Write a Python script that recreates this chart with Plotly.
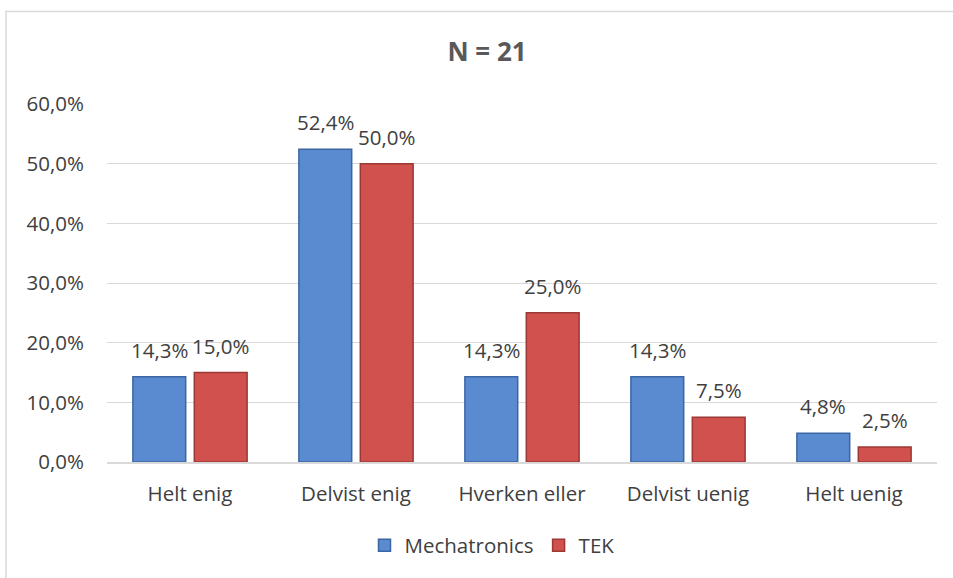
import plotly.graph_objects as go

categories = ["Helt enig", "Delvist enig", "Hverken eller", "Delvist uenig", "Helt uenig"]
mechatronics = [14.3, 52.4, 14.3, 14.3, 4.8]
tek = [15.0, 50.0, 25.0, 7.5, 2.5]
y_ticks = [0, 10, 20, 30, 40, 50, 60]
y_tick_labels = ["0,0%", "10,0%", "20,0%", "30,0%", "40,0%", "50,0%", "60,0%"]

W, H = 953, 578
ml, mr, mt, mb = 107, 16, 104, 114
pw, ph = W - ml - mr, H - mt - mb

font_fam = "'Open Sans', Lato, sans-serif"
grey = "#595959"
txt = "#404040"
fs = 20.5
bargap = 0.26

fig = go.Figure()
fig.add_trace(go.Bar(
    name="Mechatronics", x=categories, y=mechatronics,
    marker=dict(color="#5A8AD0", line=dict(color="#3B66A3", width=1.5)),
))
fig.add_trace(go.Bar(
    name="TEK", x=categories, y=tek,
    marker=dict(color="#D0514D", line=dict(color="#9C3835", width=1.5)),
))

def fmt(v):
    return f"{v:.1f}%".replace(".", ",")

# value labels, placed at each bar's slot centre within its category group
slot = (1 - bargap) / 2
annotations = []
for series, shift in ((mechatronics, -slot / 2), (tek, slot / 2)):
    for i, v in enumerate(series):
        annotations.append(dict(
            x=i + shift, y=v, xref="x", yref="y", text=fmt(v), showarrow=False,
            yanchor="bottom", yshift=11, font=dict(size=fs, color=txt, family=font_fam),
        ))

def px_x(p):
    return (p - ml) / pw

def px_y(p):
    return (H - mb - p) / ph

fig.update_layout(
    width=W, height=H,
    margin=dict(l=ml, r=mr, t=mt, b=mb),
    paper_bgcolor="white", plot_bgcolor="white",
    barmode="group", bargap=bargap, bargroupgap=0.14,
    font=dict(family=font_fam, color=grey, size=fs),
    title=dict(text="<b>N = 21</b>", x=487 / W, xanchor="center",
               y=1 - 52 / H, yanchor="middle",
               font=dict(size=26, color=grey, family=font_fam)),
    xaxis=dict(showgrid=False, showline=True, linecolor="#D9D9D9", linewidth=1.5,
               ticks="", tickfont=dict(size=fs, color=txt), ticklabelstandoff=13),
    yaxis=dict(range=[0, 60], tickvals=y_ticks, ticktext=y_tick_labels,
               showgrid=True, gridcolor="#D9D9D9", gridwidth=1.2, zeroline=False,
               showline=False, ticks="", tickfont=dict(size=fs, color=txt),
               ticklabelstandoff=22),
    legend=dict(orientation="h", x=px_x(492), xanchor="center", y=px_y(548), yanchor="middle",
                font=dict(size=fs, color=txt), itemwidth=30, traceorder="normal"),
    showlegend=True,
    annotations=annotations,
    shapes=[dict(type="rect", xref="paper", yref="paper",
                 x0=px_x(6), x1=px_x(W + 20), y0=px_y(H + 20), y1=px_y(11),
                 line=dict(color="#D9D9D9", width=1.5), fillcolor="rgba(0,0,0,0)", layer="below")],
)

fig.write_html("out.html", config={"displayModeBar": False},
               post_script="document.body.style.margin='0';document.body.style.overflow='hidden';")
